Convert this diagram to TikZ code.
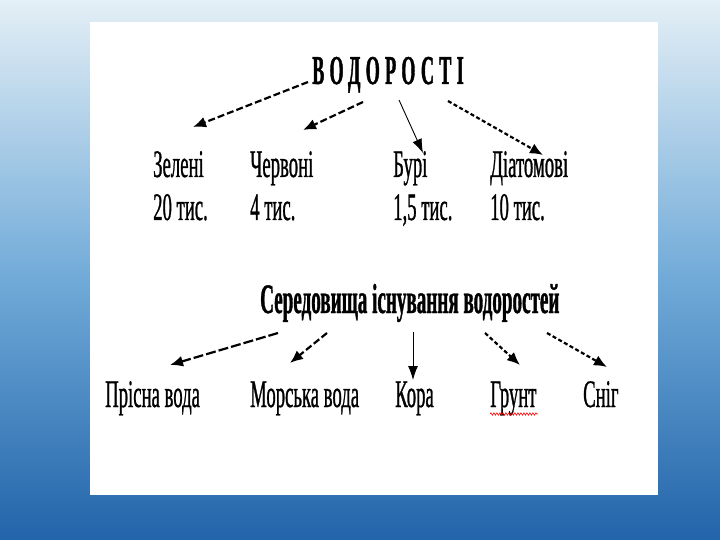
\documentclass[tikz,border=0pt]{standalone}
\usepackage{fontspec}
\setmainfont{Liberation Serif}
\newfontfamily\narrowfont[FakeStretch=0.48,FakeBold=0.7]{Liberation Serif}
\newfontfamily\headfont[FakeStretch=0.455,FakeBold=0.8]{Liberation Serif}
\newfontfamily\spacedfont[FakeStretch=0.44,LetterSpace=13,FakeBold=1]{Liberation Serif}
\usetikzlibrary{arrows.meta,decorations.pathmorphing}

\definecolor{skytop}{RGB}{228,239,246}
\definecolor{skymid}{RGB}{112,170,216}
\definecolor{skylow}{RGB}{34,100,170}

\tikzset{
  lbl/.style={anchor=base west, inner sep=0pt, font=\narrowfont\fontsize{39}{44}\selectfont},
  head/.style={anchor=base west, inner sep=0pt, font=\headfont\bfseries\fontsize{42}{46}\selectfont},
  dasharr/.style={line width=2.2pt, dash pattern=on 7pt off 3pt, -{Latex[length=13pt,width=11pt]}},
  dotarr/.style={line width=2.2pt, dash pattern=on 4pt off 2.5pt, -{Latex[length=13pt,width=11pt]}},
  thinarr/.style={line width=0.9pt, -{Latex[length=14pt,width=10pt]}},
}

\begin{document}
\begin{tikzpicture}[x=1pt,y=-1pt]
\useasboundingbox (0,0) rectangle (720,540);
% Background
\shade[top color=skytop, bottom color=skymid] (0,0) rectangle (720,280);
\shade[top color=skymid, bottom color=skylow] (0,280) rectangle (720,540);
\fill[white] (90,22) rectangle (658,495);
%
% Groups of algae
\node[anchor=base west, inner sep=0pt, font=\spacedfont\bfseries\fontsize{41}{46}\selectfont]
  (vod) at (312,84) {ВОДОРОСТІ};
\node[lbl] (zel) at (153,177) {Зелені};
\node[lbl] (zeln) at (153,220) {20 тис.};
\node[lbl] (cherv) at (250,177) {Червоні};
\node[lbl] (chervn) at (250,220) {4 тис.};
\node[lbl] (bur) at (393,177) {Бурі};
\node[lbl] (burn) at (393,220) {1,5 тис.};
\node[lbl] (diat) at (490,177) {Діатомові};
\node[lbl] (diatn) at (490,220) {10 тис.};
%
% Habitats
\node[head] (sered) at (260,313) {Середовища існування водоростей};
\node[lbl] (pris) at (105,407) {Прісна вода};
\node[lbl] (mors) at (250,407) {Морська вода};
\node[lbl] (kora) at (395,407) {Кора};
\node[lbl] (grunt) at (490,407) {Грунт};
\node[lbl] (snig) at (583,407) {Сніг};
\draw[red, line width=0.6pt, decorate,
  decoration={snake, amplitude=1.2pt, segment length=3pt}] (490,414) -- (538,414);
%
% Arrow ends
\coordinate (v1) at (308,82);
\coordinate (v2) at (363,102);
\coordinate (v3) at (399,100);
\coordinate (v4) at (448,101);
\coordinate (t1) at (193,127);
\coordinate (t2) at (303,130);
\coordinate (t3) at (423,153);
\coordinate (t4) at (543,155);
\coordinate (s1) at (278,333);
\coordinate (s2) at (327,333);
\coordinate (s3) at (413,332);
\coordinate (s4) at (485,333);
\coordinate (s5) at (547,333);
\coordinate (h1) at (170,365);
\coordinate (h2) at (290,363);
\coordinate (h3) at (413,380);
\coordinate (h4) at (520,365);
\coordinate (h5) at (607,367);
%
% Arrows from the top title
\draw[dasharr] (v1) -- (t1);
\draw[dasharr] (v2) -- (t2);
\draw[thinarr] (v3) -- (t3);
\draw[dotarr] (v4) -- (t4);
% Arrows from the second title
\draw[dasharr, dash pattern=on 10pt off 3pt] (s1) -- (h1);
\draw[dasharr] (s2) -- (h2);
\draw[thinarr] (s3) -- (h3);
\draw[dotarr] (s4) -- (h4);
\draw[dotarr] (s5) -- (h5);
\end{tikzpicture}
\end{document}
